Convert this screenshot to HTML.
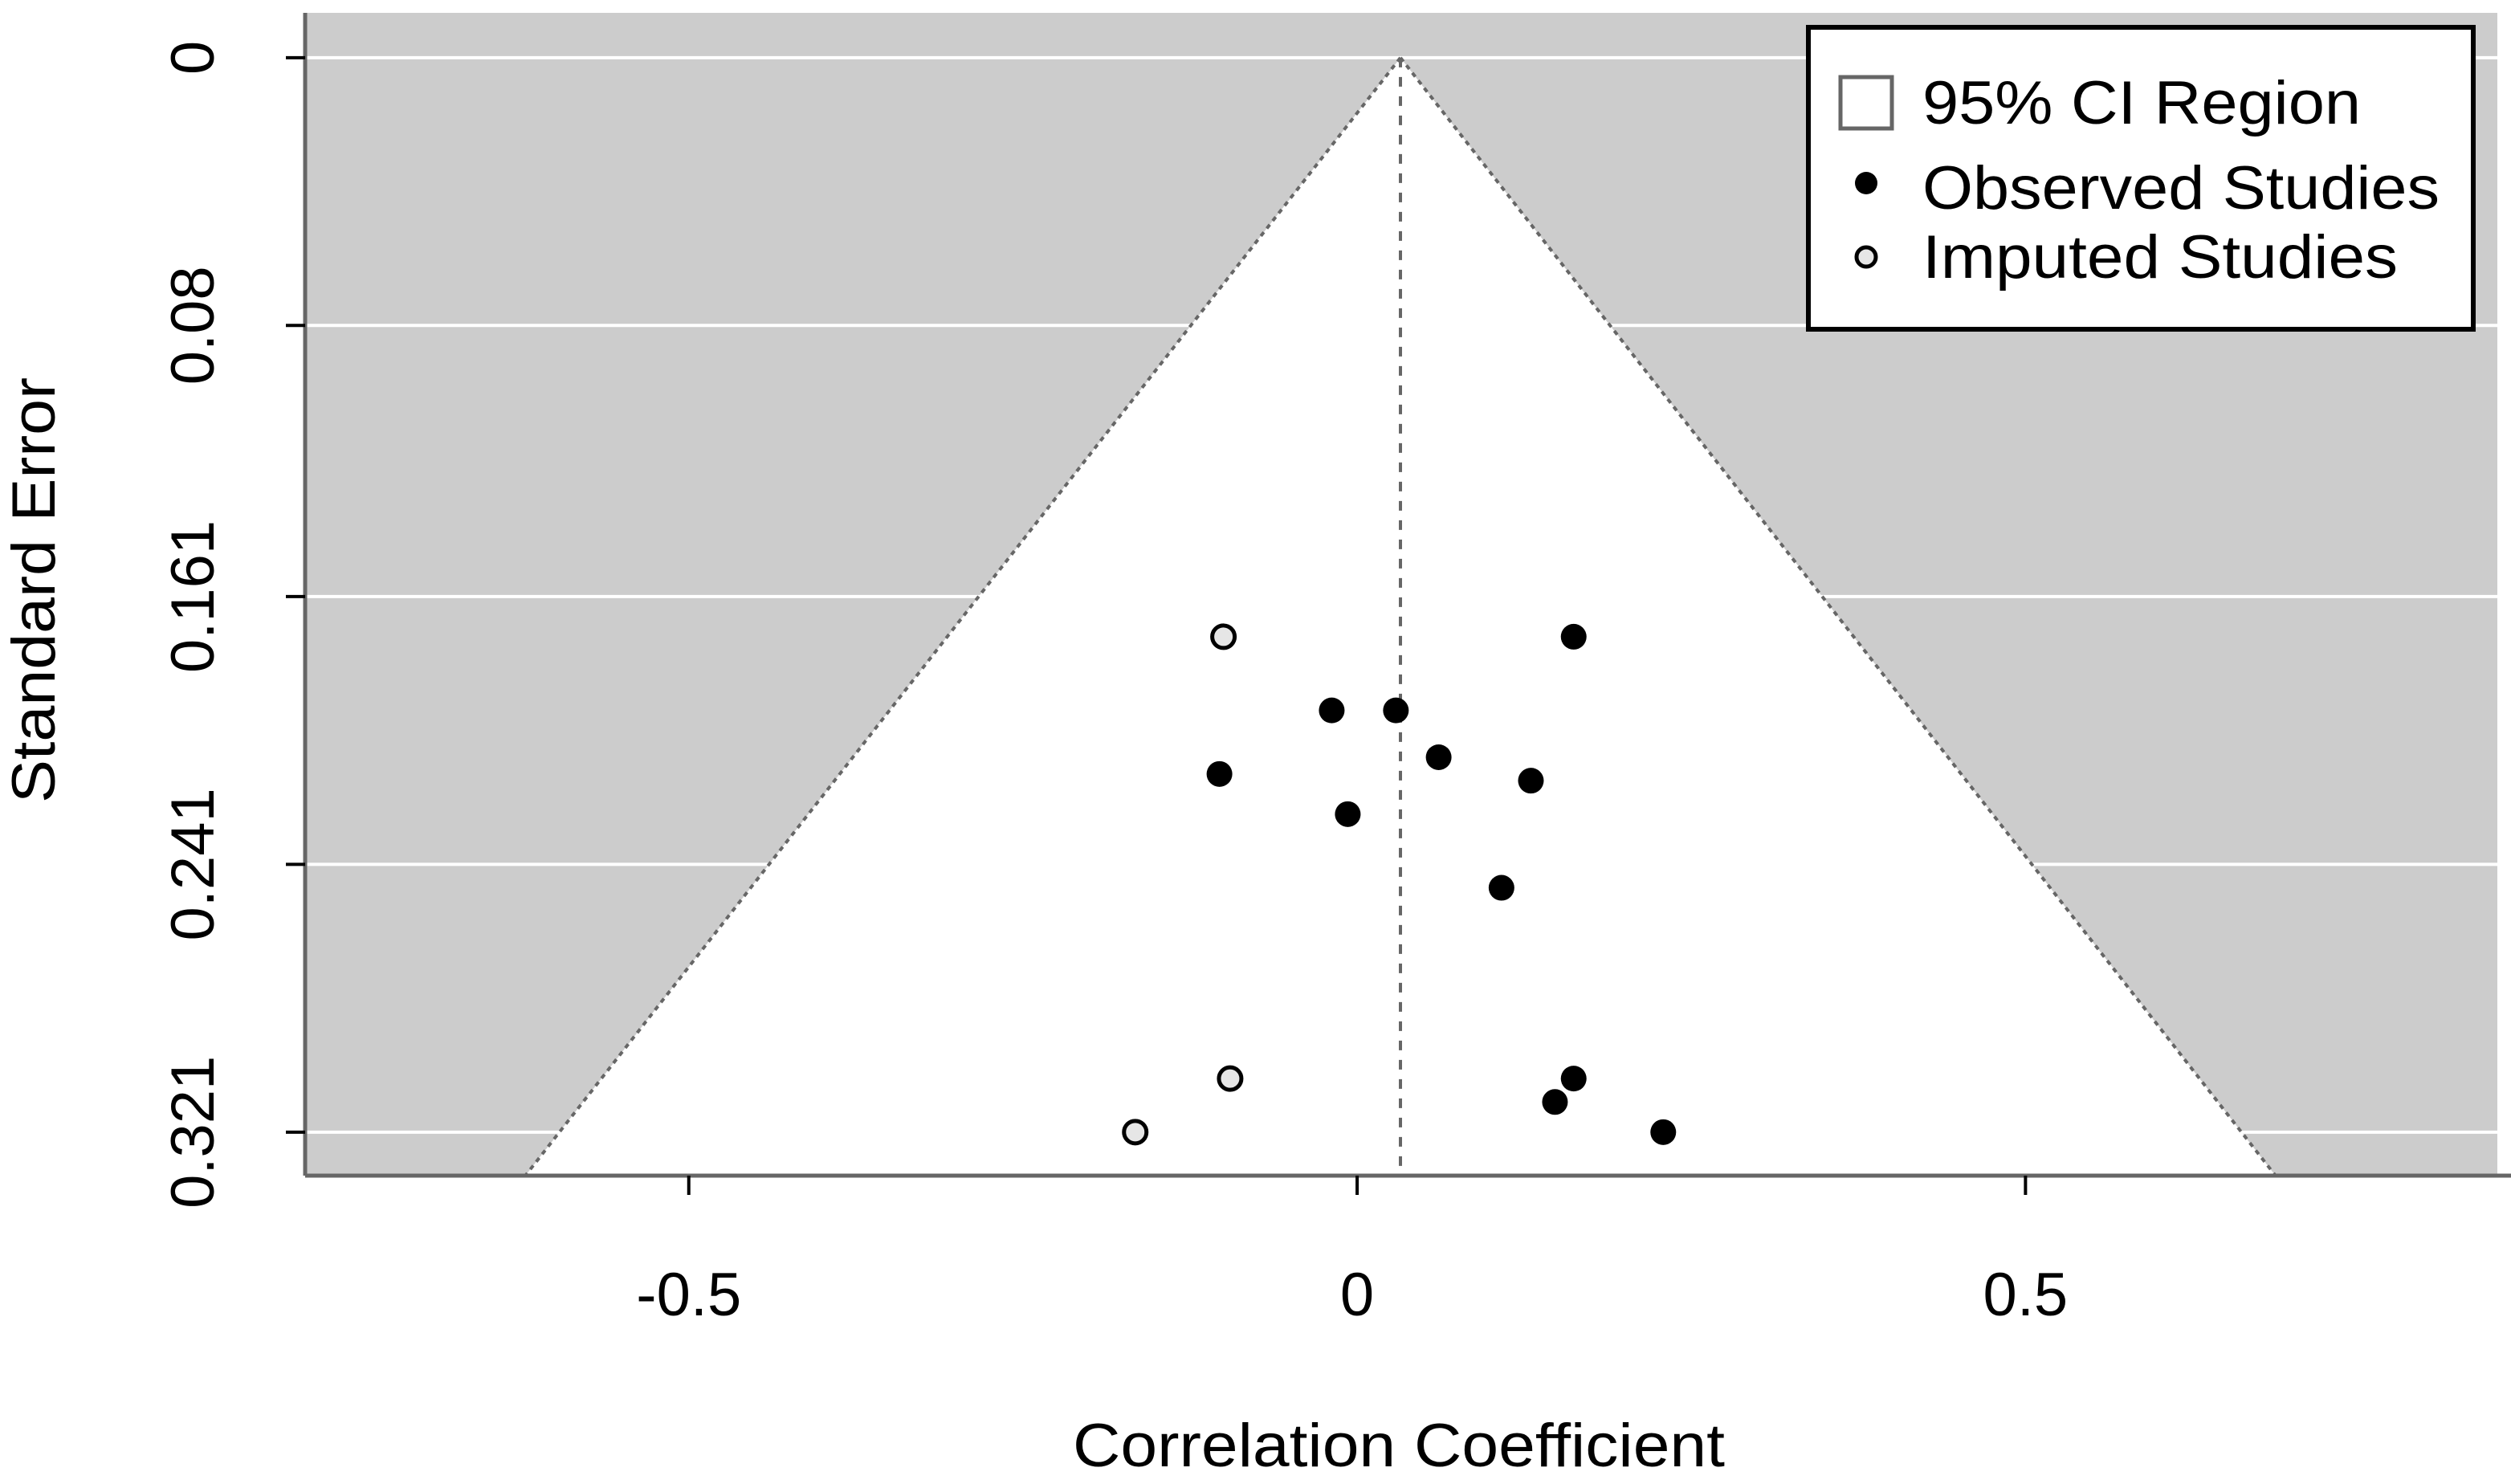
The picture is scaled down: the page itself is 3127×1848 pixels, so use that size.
<!DOCTYPE html>
<html><head><meta charset="utf-8"><style>
html,body{margin:0;padding:0;background:#fff;}
svg{display:block;font-family:"Liberation Sans",sans-serif;}
</style></head><body>
<svg id="chart" width="3127" height="1848" viewBox="0 0 3127 1848" xmlns="http://www.w3.org/2000/svg">
<g id="plot"></g>
<text x="1742" y="1826" font-size="76" text-anchor="middle" fill="#000" textLength="812" lengthAdjust="spacingAndGlyphs">Correlation Coefficient</text>
<text transform="translate(68,735) rotate(-90)" font-size="76" text-anchor="middle" fill="#000" textLength="530" lengthAdjust="spacingAndGlyphs">Standard Error</text>
<g>
<rect x="2252" y="34" width="828" height="376" fill="#fff" stroke="#000" stroke-width="6"/>
<rect x="2292" y="96" width="64" height="64" fill="#fff" stroke="#666" stroke-width="5"/>
<text x="2394" y="154" font-size="76" textLength="546" lengthAdjust="spacingAndGlyphs">95% CI Region</text>
<circle cx="2324" cy="228" r="14" fill="#000"/>
<text x="2394" y="260" font-size="76" textLength="644" lengthAdjust="spacingAndGlyphs">Observed Studies</text>
<circle cx="2324" cy="320" r="12" fill="#e6e6e6" stroke="#000" stroke-width="5"/>
<text x="2394" y="346" font-size="76" textLength="592" lengthAdjust="spacingAndGlyphs">Imputed Studies</text>
</g>
</svg>
<script>
const xTicks = [-0.5, 0, 0.5];
const xTickLabels = ["-0.5", "0", "0.5"];
const yTicks = [0, 0.08, 0.161, 0.241, 0.321];
const yTickLabels = ["0", "0.08", "0.161", "0.241", "0.321"];
const observedX = [0.162, -0.019, 0.029, 0.061, -0.103, 0.130, -0.007, 0.108, 0.162, 0.148, 0.229];
const observedSE = [0.173, 0.195, 0.195, 0.209, 0.214, 0.216, 0.226, 0.248, 0.305, 0.312, 0.321];
const imputedX = [-0.100, -0.095, -0.166];
const imputedSE = [0.173, 0.305, 0.321];
const pooledEstimate = 0.0324;

const L=380,R=3110,T=16,B=1464;
const xMin=-0.787,xMax=0.853,yMin=-0.0134,yMax=0.334;
const sx=v=>L+(v-xMin)/(xMax-xMin)*(R-L);
const sy=v=>T+(v-yMin)/(yMax-yMin)*(B-T);
const NS="http://www.w3.org/2000/svg";
const g=document.getElementById('plot');
function mk(tag,attrs){const e=document.createElementNS(NS,tag);for(const k in attrs)e.setAttribute(k,attrs[k]);g.appendChild(e);return e;}

let e=mk('rect',{x:L,y:T,width:R-L,height:B-T,fill:'#cccccc'});


yTicks.forEach((t,i)=>{
  const l=mk('line',{x1:L,x2:R,y1:sy(t),y2:sy(t),stroke:'#fff','stroke-width':4});
  
  
});
const ap=[sx(pooledEstimate),sy(0)];
const lx=sx(pooledEstimate-1.96*yMax), rx=sx(pooledEstimate+1.96*yMax);
e=mk('polygon',{points:`${ap[0]},${ap[1]} ${lx},${B} ${rx},${B}`,fill:'#fff'});


e=mk('line',{x1:ap[0],y1:ap[1],x2:lx,y2:B,stroke:'#666','stroke-width':4,'stroke-dasharray':'6 6'});


e=mk('line',{x1:ap[0],y1:ap[1],x2:rx,y2:B,stroke:'#666','stroke-width':4,'stroke-dasharray':'6 6'});


e=mk('line',{x1:sx(pooledEstimate),y1:sy(0),x2:sx(pooledEstimate),y2:B,stroke:'#666','stroke-width':4,'stroke-dasharray':'12 12'});


e=mk('line',{x1:L,x2:R+20,y1:B,y2:B,stroke:'#666','stroke-width':5});


e=mk('line',{x1:L,x2:L,y1:T,y2:B,stroke:'#666','stroke-width':5});


xTicks.forEach((t,i)=>{
  const l=mk('line',{x1:sx(t),x2:sx(t),y1:B,y2:B+24,stroke:'#000','stroke-width':4});
  
  
  const tx=mk('text',{x:sx(t),y:1638,'font-size':76,'text-anchor':'middle'});
  tx.textContent=xTickLabels[i];
  
  
});
yTicks.forEach((t,i)=>{
  const l=mk('line',{x1:L-24,x2:L,y1:sy(t),y2:sy(t),stroke:'#000','stroke-width':4});
  
  
  const tx=mk('text',{transform:`translate(266,${sy(t)}) rotate(-90)`,'font-size':76,'text-anchor':'middle'});
  tx.textContent=yTickLabels[i];
  
  
});
observedX.forEach((v,i)=>{
  const c=mk('circle',{cx:sx(v),cy:sy(observedSE[i]),r:16,fill:'#000'});
  
  
});
imputedX.forEach((v,i)=>{
  const c=mk('circle',{cx:sx(v),cy:sy(imputedSE[i]),r:14,fill:'#e6e6e6',stroke:'#000','stroke-width':5});
  
  
});
</script>
</body></html>
